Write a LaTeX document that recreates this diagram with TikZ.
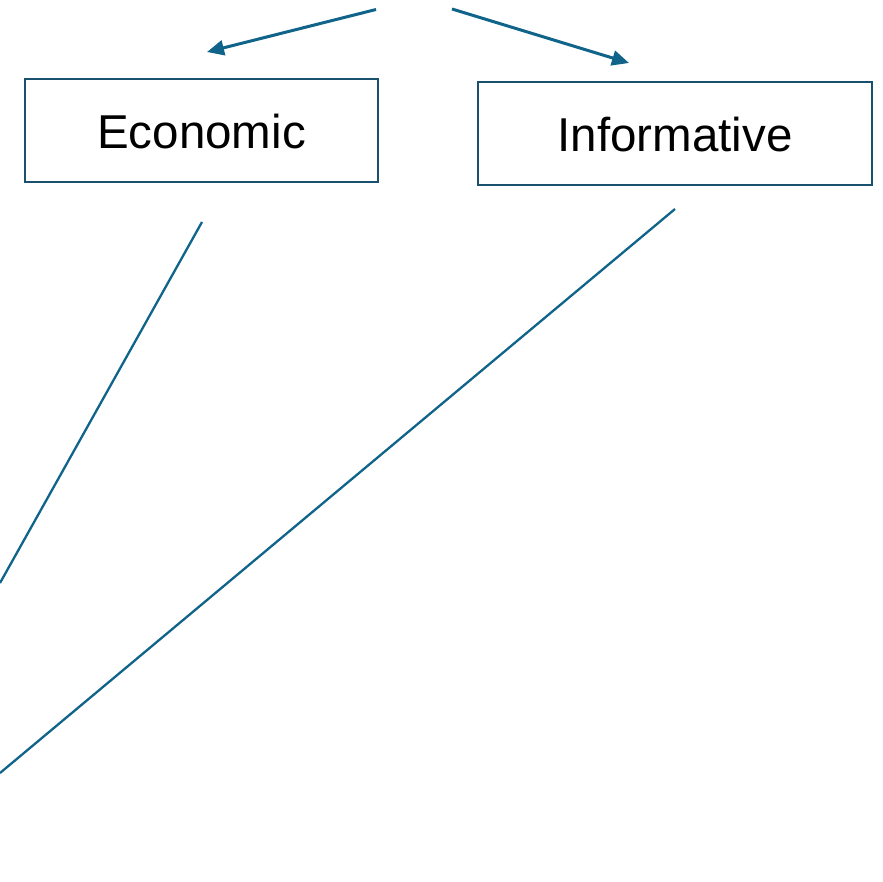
\documentclass[tikz,border=0pt]{standalone}
\usepackage{fontspec}
\setmainfont{Liberation Sans}
\usetikzlibrary{arrows.meta}
\definecolor{boxline}{RGB}{24,80,110}
\definecolor{arrowline}{RGB}{16,100,138}
\tikzset{
  catbox/.style={draw=boxline, line width=2.8pt, rectangle, inner sep=0pt,
    font=\fontsize{47.5}{56}\selectfont, text height=36pt, text depth=0pt},
  topar/.style={draw=arrowline, line width=3pt, -{Triangle[length=17pt,width=15pt]}},
  longline/.style={draw=arrowline, line width=2.3pt}
}
\begin{document}
\begin{tikzpicture}[x=1pt,y=1pt]
\useasboundingbox (0,0) rectangle (882,-882);
\node[catbox, minimum width=353pt, minimum height=103pt] (eco) at (201.5,-130.5) {Economic};
\node[catbox, minimum width=394pt, minimum height=103pt] (inf) at (675,-133.5) {Informative};
\coordinate (a1s) at (376,-9.5);
\coordinate (a1e) at (207,-52);
\coordinate (a2s) at (452,-9);
\coordinate (a2e) at (629,-63);
\coordinate (l1s) at (202,-222);
\coordinate (l1e) at (0,-583);
\coordinate (l2s) at (675,-209);
\coordinate (l2e) at (0,-773);
\draw[topar] (a1s) -- (a1e);
\draw[topar] (a2s) -- (a2e);
\draw[longline] (l1s) -- (l1e);
\draw[longline] (l2s) -- (l2e);
\end{tikzpicture}
\end{document}
